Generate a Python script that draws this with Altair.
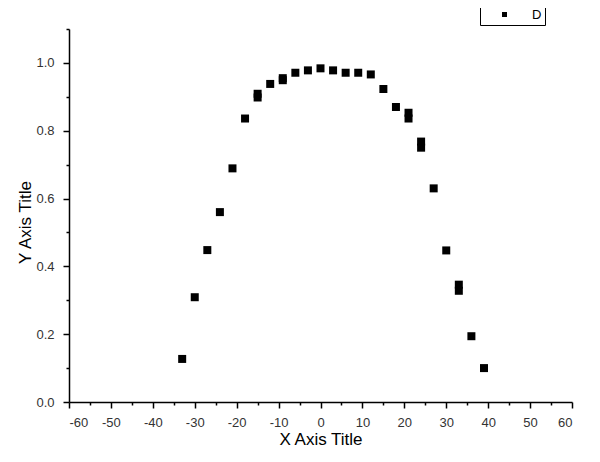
import altair as alt
import pandas as pd

# data
x_vals = [-33, -30, -27, -24, -21, -18, -15, -15, -12, -9, -9, -6, -3, 0, 3,
          6, 9, 12, 15, 18, 21, 21, 24, 24, 27, 30, 33, 33, 36, 39]
y_vals = [0.127, 0.309, 0.448, 0.560, 0.689, 0.836, 0.909, 0.898, 0.938, 0.955,
          0.949, 0.971, 0.978, 0.984, 0.978, 0.971, 0.971, 0.966, 0.923, 0.870,
          0.853, 0.836, 0.768, 0.750, 0.630, 0.447, 0.346, 0.328, 0.194, 0.100]
series_name = "D"

major_x = [-60, -50, -40, -30, -20, -10, 0, 10, 20, 30, 40, 50, 60]
minor_x = [-55, -45, -35, -25, -15, -5, 5, 15, 25, 35, 45, 55]
major_y = [0.0, 0.2, 0.4, 0.6, 0.8, 1.0]
minor_y = [0.1, 0.3, 0.5, 0.7, 0.9, 1.1]

df = pd.DataFrame({"x": x_vals, "y": y_vals, "series": [series_name] * len(x_vals)})

FONT = "Liberation Sans"
xscale = alt.Scale(domain=[-60, 60], nice=False, zero=False)
yscale = alt.Scale(domain=[0, 1.1], nice=False, zero=False)

points = alt.Chart(df).mark_square(size=64, opacity=1, filled=True).encode(
    x=alt.X("x:Q", scale=xscale,
            axis=alt.Axis(values=major_x, orient="bottom", tickSize=6,
                          labelExpr="toString(datum.value)", labelPadding=8,
                          title="X Axis Title", titleY=42, titleBaseline="alphabetic")),
    y=alt.Y("y:Q", scale=yscale,
            axis=alt.Axis(values=major_y, orient="left", tickSize=6, format=".1f",
                          labelPadding=9, title="Y Axis Title", titleX=-39, titleY=193,
                          titleBaseline="alphabetic")),
    color=alt.Color("series:N", scale=alt.Scale(range=["black"]),
                    legend=alt.Legend(title=None, orient="none", legendX=411, legendY=-24,
                                      symbolType="square", symbolSize=25,
                                      symbolFillColor="black", symbolStrokeWidth=0,
                                      labelFontSize=13, labelFont=FONT, labelColor="black",
                                      padding=3, strokeColor="black", fillColor="white",
                                      symbolOffset=15, labelOffset=21)),
)

minor = alt.Chart(df).mark_point(opacity=0).encode(
    x=alt.X("x:Q", scale=xscale,
            axis=alt.Axis(values=minor_x, orient="bottom", tickSize=3, labels=False,
                          domain=False, title=None)),
    y=alt.Y("y:Q", scale=yscale,
            axis=alt.Axis(values=minor_y, orient="left", tickSize=3, labels=False,
                          domain=False, title=None)),
)

chart = alt.layer(points, minor).resolve_axis(x="independent", y="independent").properties(
    width=503, height=373,
    background="white",
    autosize=alt.AutoSizeParams(type="none"),
    padding={"left": 61, "top": 21, "right": 20, "bottom": 46},
).configure_view(stroke=None).configure_axis(
    grid=False, domainColor="black", tickColor="black", domainWidth=1.5, tickWidth=1.5,
    labelFont=FONT, labelFontSize=13, labelColor="#333",
    titleFont=FONT, titleFontSize=17, titleFontWeight="normal", titleColor="black",
)

chart.save("out.html", embed_options={"renderer": "svg", "actions": False})
